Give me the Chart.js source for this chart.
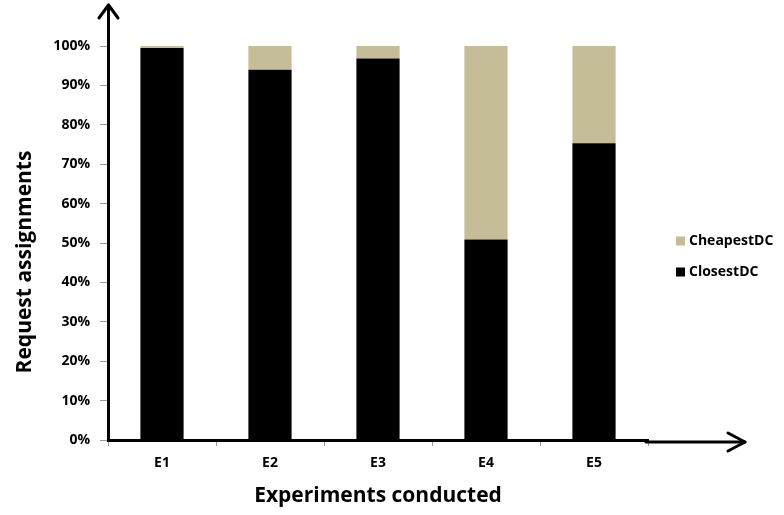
<!DOCTYPE html>
<html>
<head>
<meta charset="utf-8">
<script src="https://cdn.jsdelivr.net/npm/chart.js@4/dist/chart.umd.min.js"></script>
<style>
  html, body { margin: 0; padding: 0; background: #fff; }
  #wrap { width: 784px; height: 515px; position: relative; }
</style>
</head>
<body>
<div id="wrap"><canvas id="c" width="784" height="515"></canvas></div>
<script>
// Share of requests assigned per experiment (percent)
const experiments = ['E1', 'E2', 'E3', 'E4', 'E5'];
const closestDC = [99.5, 94.0, 96.8, 50.9, 75.3];
const cheapestDC = [0.5, 6.0, 3.2, 49.1, 24.7];
const yTickValues = [0, 10, 20, 30, 40, 50, 60, 70, 80, 90, 100];

const FONT = '"Open Sans", Lato, sans-serif';
const TAN = '#C4BD97';

// Axis arrows, y-axis title and the side legend
const decorations = {
  id: 'decorations',
  afterDraw(chart) {
    const ctx = chart.ctx;
    const xs = chart.scales.x, ys = chart.scales.y;
    const x0 = xs.left, yTop = ys.top, y0 = ys.bottom;
    ctx.save();
    ctx.strokeStyle = '#000';
    ctx.lineWidth = 3;
    ctx.lineCap = 'round';
    ctx.lineJoin = 'round';
    // vertical axis extension + arrow
    ctx.beginPath();
    ctx.moveTo(x0 + 0.5, yTop);
    ctx.lineTo(x0 + 0.5, 5);
    ctx.stroke();
    ctx.beginPath();
    ctx.moveTo(x0 - 9, 18);
    ctx.lineTo(x0 + 0.5, 5);
    ctx.lineTo(x0 + 10, 18);
    ctx.stroke();
    // horizontal axis extension + arrow
    const tipX = 745;
    ctx.beginPath();
    ctx.moveTo(xs.right - 2, y0 + 2);
    ctx.lineTo(tipX, y0 + 2);
    ctx.stroke();
    ctx.beginPath();
    ctx.moveTo(tipX - 17, y0 - 7);
    ctx.lineTo(tipX, y0 + 2);
    ctx.lineTo(tipX - 17, y0 + 11);
    ctx.stroke();

    // y-axis title
    ctx.fillStyle = '#000';
    ctx.font = 'bold 21px ' + FONT;
    ctx.textAlign = 'center';
    ctx.textBaseline = 'middle';
    ctx.translate(25, 262);
    ctx.rotate(-Math.PI / 2);
    ctx.fillText('Request assignments', 0, 0);
    ctx.restore();

    // legend (top entry is the upper stack segment)
    ctx.save();
    const items = chart.data.datasets.slice().reverse();
    ctx.font = 'bold 14px ' + FONT;
    ctx.textBaseline = 'middle';
    ctx.textAlign = 'left';
    items.forEach((ds, i) => {
      const cy = 241 + i * 31;
      ctx.fillStyle = ds.backgroundColor;
      ctx.fillRect(676, cy - 4.5, 9, 9);
      ctx.fillStyle = '#000';
      ctx.fillText(ds.label, 689, cy);
    });
    ctx.restore();
  }
};

new Chart(document.getElementById('c'), {
  type: 'bar',
  data: {
    labels: experiments,
    datasets: [
      { label: 'ClosestDC', data: closestDC, backgroundColor: '#000000', borderWidth: 0 },
      { label: 'CheapestDC', data: cheapestDC, backgroundColor: TAN, borderWidth: 0 }
    ]
  },
  options: {
    responsive: false,
    animation: false,
    devicePixelRatio: 1,
    layout: { padding: { top: 46, right: 136, left: 0, bottom: 0 } },
    plugins: {
      legend: { display: false },
      tooltip: { enabled: false }
    },
    datasets: { bar: { categoryPercentage: 1.0, barPercentage: 0.4 } },
    scales: {
      x: {
        stacked: true,
        offset: true,
        grid: { drawOnChartArea: false, drawTicks: true, tickLength: 6, color: '#999', offset: true },
        border: { display: true, color: '#000', width: 3, z: 1 },
        ticks: { color: '#000', font: { family: FONT, size: 14, weight: 'bold' }, padding: 9 },
        title: {
          display: true, text: 'Experiments conducted', color: '#000',
          font: { family: FONT, size: 21, weight: 'bold' }, padding: { top: 0, bottom: 6 }
        },
        afterFit(scale) { scale.height = 75; }
      },
      y: {
        stacked: true,
        min: 0, max: 100,
        afterBuildTicks(scale) { scale.ticks = yTickValues.map(v => ({ value: v })); },
        grid: { drawOnChartArea: false, drawTicks: true, tickLength: 8, color: '#999' },
        border: { display: true, color: '#000', width: 3, z: 1 },
        ticks: {
          color: '#000', padding: 10,
          font: { family: FONT, size: 14, weight: 'bold' },
          callback: v => v + '%'
        },
        afterFit(scale) { scale.width = 108; }
      }
    }
  },
  plugins: [decorations]
});
</script>
</body>
</html>
